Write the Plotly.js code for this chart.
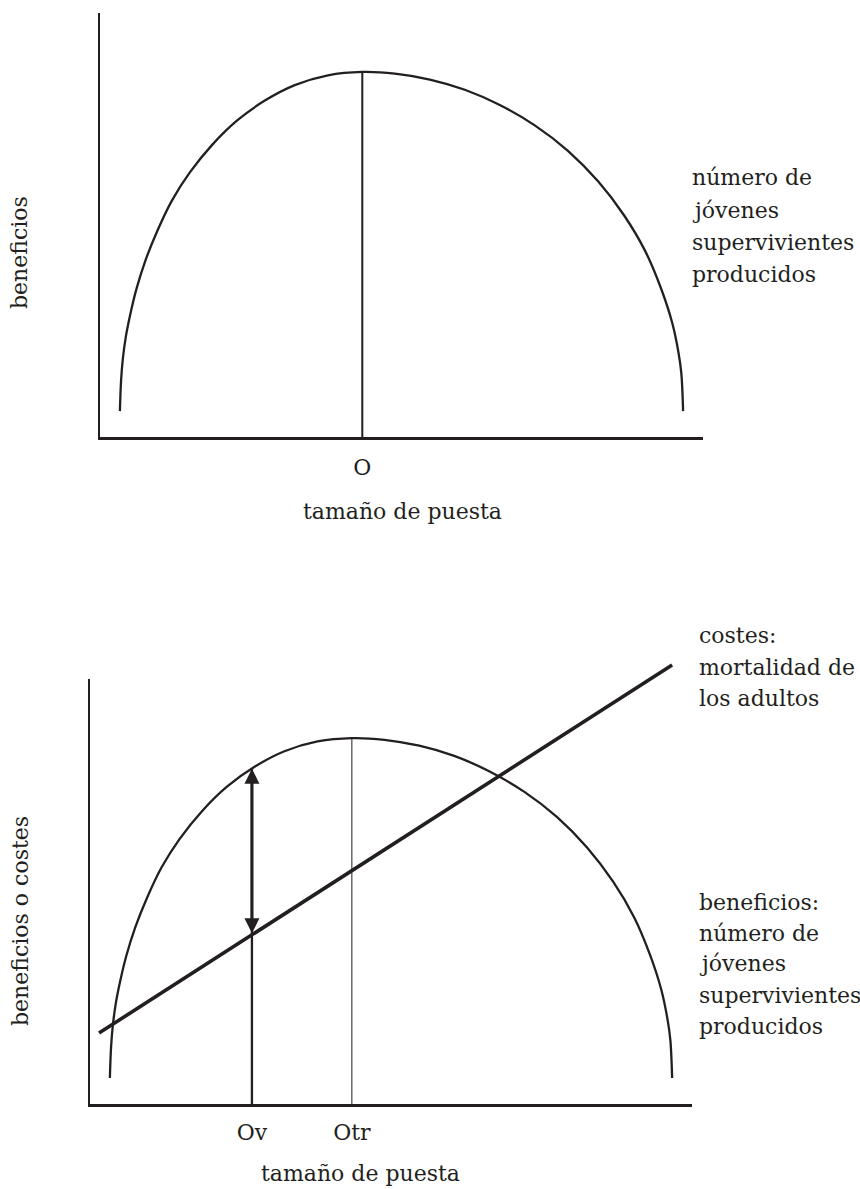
<!DOCTYPE html>
<html><head><meta charset="utf-8">
<script src="https://cdn.plot.ly/plotly-3.0.1.min.js"></script>
<style>html,body{margin:0;padding:0;background:#fff;}#chart{width:860px;height:1189px;}</style>
</head><body><div id="chart"></div>
<script>
// ---- Data (arbitrary units, 0–10 on both axes) ----
const clutchSize = [0.33,0.35,0.38,0.43,0.50,0.60,0.75,0.95,1.19,1.49,1.86,2.27,2.74,3.23,3.78,4.35,
                    4.89,5.47,6.05,6.63,7.21,7.76,8.26,8.69,9.04,9.30,9.49,9.59,9.64,9.67];
const benefits   = [0.61,1.34,1.86,2.38,2.88,3.47,4.15,4.86,5.57,6.24,6.89,7.46,7.94,8.30,8.53,8.61,
                    8.57,8.43,8.19,7.83,7.35,6.75,6.03,5.23,4.39,3.52,2.69,2.02,1.51,0.61];
const costClutch = [0.15, 9.67];
const costs      = [1.67, 10.33];
const optimumO   = 4.35;
const optimumOtr = 4.35;
const optimumOv  = 2.69;
const peakBenefit = 8.61;
const benefitAtOv = 7.89;
const costAtOv    = 3.98;
const topTickVals = [optimumO];
const topTickText = ['O'];
const bottomTickVals = [optimumOv, optimumOtr];
const bottomTickText = ['Ov', 'Otr'];
const topLabelLines = ['número de', 'jóvenes', 'supervivientes', 'producidos'];
const costLabelLines = ['costes:', 'mortalidad de', 'los adultos'];
const benefitLabelLines = ['beneficios:', 'número de', 'jóvenes', 'supervivientes', 'producidos'];
const xTitle = 'tamaño de puesta';
const yTitleTop = 'beneficios';
const yTitleBottom = 'beneficios o costes';

// ---- Layout helpers ----
const W = 860, H = 1189;
const fx = p => p / W;
const fy = p => 1 - p / H;
const INK = '#231f20';
const FONT = {family: 'DejaVu Serif, serif', size: 22, color: INK};

const axisCommon = {showgrid: false, zeroline: false, showline: true, linecolor: INK,
  linewidth: 2.5, ticks: '', fixedrange: true, range: [0, 10]};

const curveLine = {color: INK, width: 2.3, shape: 'spline', smoothing: 1};
const traces = [
  {x: clutchSize, y: benefits, xaxis: 'x', yaxis: 'y', mode: 'lines', line: curveLine, hoverinfo: 'skip'},
  {x: [optimumO, optimumO], y: [0, peakBenefit], xaxis: 'x', yaxis: 'y', mode: 'lines',
   line: {color: INK, width: 2}, hoverinfo: 'skip'},
  {x: clutchSize, y: benefits, xaxis: 'x2', yaxis: 'y2', mode: 'lines', line: curveLine, hoverinfo: 'skip'},
  {x: [optimumOv, optimumOv], y: [0, benefitAtOv], xaxis: 'x2', yaxis: 'y2', mode: 'lines',
   line: {color: INK, width: 2.3}, hoverinfo: 'skip'},
  {x: [optimumOtr, optimumOtr], y: [0, peakBenefit], xaxis: 'x2', yaxis: 'y2', mode: 'lines',
   line: {color: INK, width: 1}, hoverinfo: 'skip'},
  {x: costClutch, y: costs, xaxis: 'x3', yaxis: 'y3', mode: 'lines',
   line: {color: INK, width: 3.6}, hoverinfo: 'skip'}
];

const unitBottom = (1104 - 679) / 10;  // px per unit on the bottom y axis

const annotations = [];
function textAt(t, px, py, opts) {
  annotations.push(Object.assign({text: t, xref: 'paper', yref: 'paper', x: fx(px), y: fy(py),
    xanchor: 'center', yanchor: 'middle', showarrow: false, font: FONT}, opts || {}));
}
// axis titles
textAt(xTitle, 402, 511);
textAt(yTitleTop, 20, 253, {textangle: -90});
textAt(xTitle, 360, 1173);
textAt(yTitleBottom, 20, 921, {textangle: -90});
// right-hand labels
topLabelLines.forEach((t, i) => textAt(t, 690, 178 + 32 * i, {xanchor: 'left'}));
costLabelLines.forEach((t, i) => textAt(t, 697, 636 + 31 * i, {xanchor: 'left'}));
benefitLabelLines.forEach((t, i) => textAt(t, 697, 902 + 31 * i, {xanchor: 'left'}));
// double-headed arrow between benefit and cost at Ov
annotations.push({xref: 'x2', yref: 'y2', axref: 'x2', ayref: 'y2',
  x: optimumOv, y: benefitAtOv, ax: optimumOv, ay: costAtOv, text: '',
  showarrow: true, arrowside: 'end+start', arrowhead: 2, startarrowhead: 2,
  arrowwidth: 3, arrowsize: 1, startarrowsize: 1, arrowcolor: INK, standoff: 0, startstandoff: 0});

const layout = {
  width: W, height: H, margin: {l: 0, r: 0, t: 0, b: 0},
  paper_bgcolor: '#ffffff', plot_bgcolor: 'rgba(0,0,0,0)', showlegend: false,
  font: FONT,
  xaxis: Object.assign({}, axisCommon, {domain: [fx(100), fx(703)], anchor: 'y',
    tickvals: topTickVals, ticktext: topTickText, tickfont: FONT, ticklabelstandoff: 9}),
  yaxis: Object.assign({}, axisCommon, {domain: [fy(437), fy(13)], anchor: 'x', showticklabels: false}),
  xaxis2: Object.assign({}, axisCommon, {domain: [fx(90), fx(692)], anchor: 'y2',
    tickvals: bottomTickVals, ticktext: bottomTickText, tickfont: FONT, ticklabelstandoff: 7}),
  yaxis2: Object.assign({}, axisCommon, {domain: [fy(1104), fy(679)], anchor: 'x2', showticklabels: false}),
  xaxis3: {domain: [fx(90), fx(692)], range: [0, 10], anchor: 'y3', visible: false, fixedrange: true},
  yaxis3: {domain: [fy(1104), fy(640)], range: [0, (1104 - 640) / unitBottom], anchor: 'x3', visible: false, fixedrange: true},
  annotations: annotations
};

Plotly.newPlot('chart', traces, layout, {staticPlot: true, displayModeBar: false});
</script>
</body></html>
